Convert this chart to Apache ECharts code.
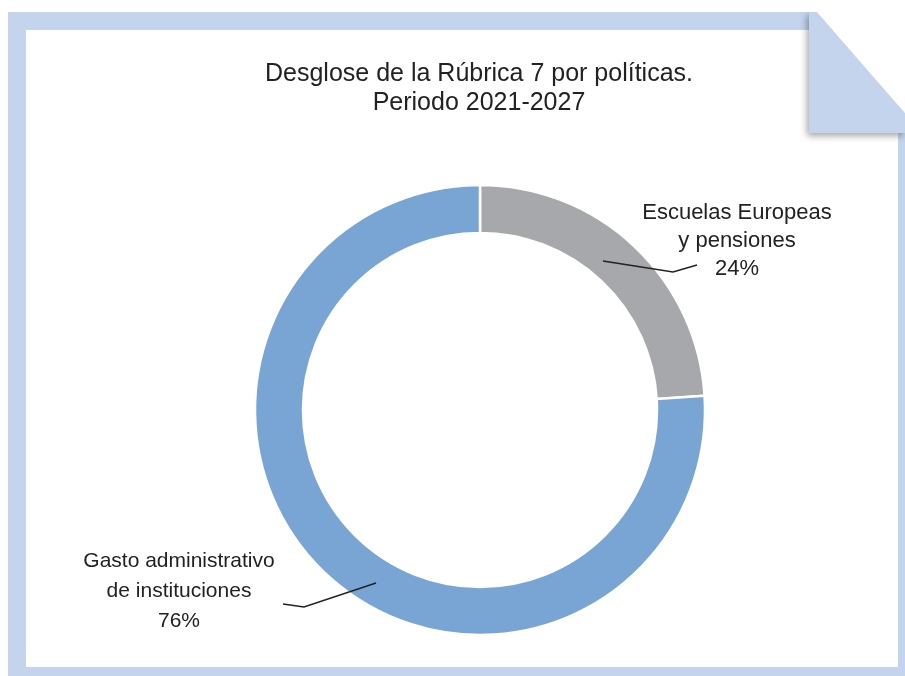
<!DOCTYPE html>
<html>
<head>
<meta charset="utf-8">
<script src="https://cdn.jsdelivr.net/npm/echarts@6/dist/echarts.min.js"></script>
<style>
  html, body { margin: 0; padding: 0; background: #ffffff; }
  #chart { width: 905px; height: 676px; }
</style>
</head>
<body>
<div id="chart"></div>
<script>
// Rúbrica 7 breakdown, 2021-2027 (share of the heading, %)
const categories = ['Escuelas Europeas\ny pensiones', 'Gasto administrativo\nde instituciones'];
const shares = [24, 76];
const sliceColors = ['#a7a8ac', '#79a5d5'];
const titleLines = ['Desglose de la Rúbrica 7 por políticas.', 'Periodo 2021-2027'];

const FRAME = '#c3d4ec';
const TEXT = '#222222';

// label placement: label anchor (centre x, top y), type size and leader polyline
const labelPlacement = [
  { x: 737, y: 199, lh: 28, fs: 22, line: [[603, 261], [673, 272], [697, 265]] },
  { x: 179, y: 546, lh: 30, fs: 21, line: [[376, 583], [304, 607], [283, 604]] }
];

const chart = echarts.init(document.getElementById('chart'), null, { renderer: 'canvas' });

const ringBase = {
  type: 'pie',
  center: [480, 410],
  radius: [177, 225],
  startAngle: 90,
  clockwise: true,
  avoidLabelOverlap: false,
  emphasis: { disabled: true }
};

// coloured ring
const ringData = categories.map((name, i) => ({
  name: name,
  value: shares[i],
  itemStyle: { color: sliceColors[i] }
}));

// same ring, transparent, carrying the labels so the leaders sit above the sectors
const labelData = categories.map((name, i) => ({
  name: name,
  value: shares[i],
  itemStyle: { color: 'rgba(0,0,0,0)' },
  label: { lineHeight: labelPlacement[i].lh, fontSize: labelPlacement[i].fs }
}));

chart.setOption({
  backgroundColor: '#ffffff',
  animation: false,
  title: {
    text: titleLines.join('\n'),
    left: 474,
    top: 55,
    textAlign: 'center',
    textStyle: {
      fontFamily: 'Liberation Sans',
      fontSize: 25,
      fontWeight: 'normal',
      color: TEXT,
      lineHeight: 29
    }
  },
  graphic: [
    // frame band
    {
      type: 'polygon', z: -20, silent: true,
      shape: { points: [[8, 12], [817, 12], [905, 113], [905, 676], [8, 676]] },
      style: { fill: FRAME }
    },
    // paper
    {
      type: 'rect', z: -19, silent: true,
      shape: { x: 26, y: 30, width: 872, height: 637 },
      style: { fill: '#ffffff' }
    },
    // folded corner
    {
      type: 'polygon', z: -18, silent: true,
      shape: { points: [[809, 12], [817, 12], [905, 113], [905, 133], [809, 133]] },
      style: {
        fill: FRAME,
        shadowBlur: 7,
        shadowColor: 'rgba(0,0,0,0.35)',
        shadowOffsetX: -2,
        shadowOffsetY: 3
      }
    },
    // cut-away beyond the fold
    {
      type: 'polygon', z: -17, silent: true,
      shape: { points: [[817, 0], [905, 0], [905, 113], [817, 12]] },
      style: { fill: '#ffffff' }
    },
    {
      type: 'rect', z: -17, silent: true,
      shape: { x: 0, y: 0, width: 905, height: 12 },
      style: { fill: '#ffffff' }
    }
  ],
  series: [
    Object.assign({}, ringBase, {
      z: 2,
      itemStyle: { borderColor: '#ffffff', borderWidth: 2.5 },
      label: { show: false },
      labelLine: { show: false },
      data: ringData
    }),
    Object.assign({}, ringBase, {
      z: 5,
      silent: true,
      itemStyle: { borderWidth: 0 },
      label: {
        show: true,
        position: 'outside',
        formatter: p => p.name + '\n' + p.value + '%',
        fontFamily: 'Liberation Sans',
        fontSize: 22,
        color: TEXT,
        align: 'center'
      },
      labelLine: {
        show: true,
        lineStyle: { color: TEXT, width: 1.5 }
      },
      labelLayout: function (params) {
        const pl = labelPlacement[params.dataIndex];
        return {
          x: pl.x,
          y: pl.y,
          align: 'center',
          verticalAlign: 'top',
          labelLinePoints: pl.line
        };
      },
      data: labelData
    })
  ]
});
</script>
</body>
</html>
